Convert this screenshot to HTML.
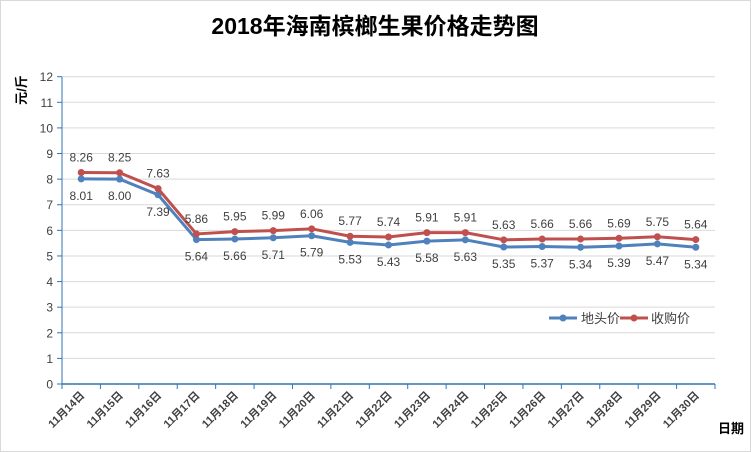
<!DOCTYPE html>
<html><head><meta charset="utf-8"><style>
body{margin:0;background:#fff}
svg{display:block;font-family:"Liberation Sans","Noto Sans CJK SC",sans-serif}
</style></head><body>
<svg id="c" width="751" height="452">
<rect x="0.5" y="0.5" width="750" height="451" fill="#fff" stroke="#d9d9d9"/>
<text x="375" y="34" text-anchor="middle" font-size="23" font-weight="bold" fill="#000" font-family="Liberation Sans,'Noto Sans CJK SC',sans-serif">2018年海南槟榔生果价格走势图</text>
<text transform="translate(26,90) rotate(-90)" text-anchor="middle" font-size="13" font-weight="bold" fill="#000">元/斤</text>
<text x="718" y="433" font-size="13" font-weight="bold" fill="#000">日期</text>
<g id="grid"></g><g id="axes"></g><g id="series"></g>
<g>
<g><line x1="549" y1="318" x2="577" y2="318" stroke="#4f81bd" stroke-width="3"/><circle cx="563" cy="318" r="3.5" fill="#4f81bd"/><text x="581" y="323" font-size="13" fill="#404040">地头价</text></g>
<g><line x1="620" y1="318" x2="648" y2="318" stroke="#c0504d" stroke-width="3"/><circle cx="634" cy="318" r="3.5" fill="#c0504d"/><text x="651" y="323" font-size="13" fill="#404040">收购价</text></g>
</g>
</svg>
<script>
const categories=["11月14日","11月15日","11月16日","11月17日","11月18日","11月19日","11月20日","11月21日","11月22日","11月23日","11月24日","11月25日","11月26日","11月27日","11月28日","11月29日","11月30日"];
const ditou=[8.01,8.00,7.39,5.64,5.66,5.71,5.79,5.53,5.43,5.58,5.63,5.35,5.37,5.34,5.39,5.47,5.34];
const shougou=[8.26,8.25,7.63,5.86,5.95,5.99,6.06,5.77,5.74,5.91,5.91,5.63,5.66,5.66,5.69,5.75,5.64];
const yTicks=[0,1,2,3,4,5,6,7,8,9,10,11,12];
const NS="http://www.w3.org/2000/svg";
const X0=62,X1=715,Y0=384,Y12=76.7,yMax=12;
const bw=(X1-X0)/categories.length;
const xs=i=>X0+bw*(i+0.5);
const ys=v=>Y0-(Y0-Y12)*v/yMax;
function mk(t,a,p){const e=document.createElementNS(NS,t);for(const k in a)e.setAttribute(k,a[k]);p.appendChild(e);return e;}
const grid=document.getElementById('grid'),axes=document.getElementById('axes'),ser=document.getElementById('series');
yTicks.forEach(v=>{
 if(v>0){const g=mk('line',{x1:X0,x2:X1,y1:ys(v),y2:ys(v),stroke:'#d9d9d9','stroke-width':1},grid);
 
 }
 const tk=mk('line',{x1:X0-5,x2:X0,y1:ys(v),y2:ys(v),stroke:'#2e75b6'},axes);
 
 
 const t=mk('text',{x:X0-9,y:ys(v)+4.5,'text-anchor':'end','font-size':12,fill:'#404040'},axes);t.textContent=v;
 
 
});
const ya=mk('line',{x1:X0,x2:X0,y1:Y12,y2:Y0,stroke:'#2e75b6'},axes);


const xa=mk('line',{x1:X0,x2:X1,y1:Y0,y2:Y0,stroke:'#2e75b6','stroke-width':1.5},axes);


for(let i=0;i<=categories.length;i++){const l=mk('line',{x1:X0+bw*i,x2:X0+bw*i,y1:Y0,y2:Y0+5,stroke:'#2e75b6'},axes);
 
 }
categories.forEach((c,i)=>{const x=xs(i)+4,y=Y0+12;
 const t=mk('text',{x:x,y:y,'text-anchor':'end','font-size':11,'font-weight':'bold',fill:'#404040',transform:`rotate(-45 ${x} ${y})`},axes);t.textContent=c;
 
 });
function draw(vals,color,name,above){
 const p=mk('polyline',{points:vals.map((v,i)=>xs(i)+','+ys(v)).join(' '),fill:'none',stroke:color,'stroke-width':3,'stroke-linejoin':'round'},ser);
 
 
 vals.forEach((v,i)=>{const c=mk('circle',{cx:xs(i),cy:ys(v),r:3.5,fill:color},ser);
  
  
  const t=mk('text',{x:xs(i),y:above?ys(v)-11:ys(v)+21,'text-anchor':'middle','font-size':12,fill:'#404040'},ser);t.textContent=v.toFixed(2);
  
  });
}
draw(ditou,'#4f81bd','ditou',false);
draw(shougou,'#c0504d','shougou',true);
</script>
</body></html>
